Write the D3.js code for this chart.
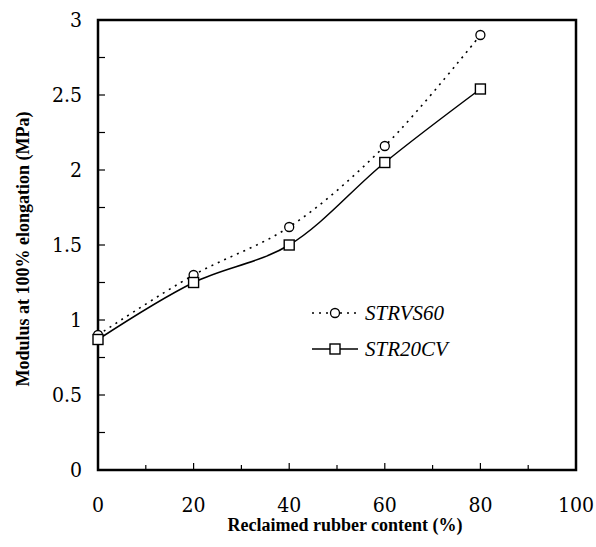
<!DOCTYPE html>
<html><head><meta charset="utf-8">
<script src="https://cdn.jsdelivr.net/npm/d3@7"></script>
<style>
body{margin:0;background:#fff}
svg text{font-family:"Liberation Serif","Times New Roman",Times,serif;}
svg text.tick{font-family:"DejaVu Serif Condensed","DejaVu Serif",serif;font-stretch:condensed;}
</style>
</head><body>
<script>
const content = [0, 20, 40, 60, 80];
const strvs60 = [0.90, 1.30, 1.62, 2.16, 2.90];
const str20cv = [0.87, 1.25, 1.50, 2.05, 2.54];
const xTicks = [0, 20, 40, 60, 80, 100];
const yTicks = [0, 0.5, 1, 1.5, 2, 2.5, 3];
const seriesNames = ["STRVS60", "STR20CV"];

const W = 596, H = 547;
const svg = d3.select("body").append("svg").attr("width", W).attr("height", H);
const x = d3.scaleLinear().domain([0, 100]).range([98, 576]);
const y = d3.scaleLinear().domain([0, 3]).range([470, 20]);

// frame
svg.append("rect").attr("x", x(0)).attr("y", y(3)).attr("width", x(100) - x(0)).attr("height", y(0) - y(3))
  .attr("fill", "none").attr("stroke", "#000").attr("stroke-width", 2.5);

// x axis ticks (inside)
const xMinor = d3.range(0, 101, 10);
svg.append("g").selectAll("line").data(xMinor).join("line")
  .attr("x1", d => x(d)).attr("x2", d => x(d))
  .attr("y1", y(0)).attr("y2", d => y(0) - (d % 20 === 0 ? 7 : 5))
  .attr("stroke", "#000").attr("stroke-width", 1.2);
svg.append("g").selectAll("text").data(xTicks).join("text").attr("class", "tick")
  .attr("x", d => x(d)).attr("y", 512).attr("text-anchor", "middle")
  .attr("font-size", 21).text(d => d);

// y axis ticks (inside)
const yMinor = d3.range(0, 3.01, 0.25);
svg.append("g").selectAll("line").data(yMinor).join("line")
  .attr("x1", x(0)).attr("x2", x(0) + 7)
  .attr("y1", d => y(d)).attr("y2", d => y(d))
  .attr("stroke", "#000").attr("stroke-width", 1.2);
svg.append("g").selectAll("text").data(yTicks).join("text").attr("class", "tick")
  .attr("x", 82).attr("y", d => y(d) + 7).attr("text-anchor", "end")
  .attr("font-size", 21).text(d => d);

// titles
svg.append("text").attr("x", 345).attr("y", 531).attr("text-anchor", "middle")
  .attr("font-size", 18).attr("font-weight", "bold")
  .text("Reclaimed rubber content (%)");
svg.append("text").attr("transform", `translate(29,${(y(0) + y(3)) / 2 + 4}) rotate(-90)`)
  .attr("text-anchor", "middle")
  .attr("font-size", 18).attr("font-weight", "bold")
  .text("Modulus at 100% elongation (MPa)");

const line = d3.line().x(d => x(d[0])).y(d => y(d[1])).curve(d3.curveCatmullRom.alpha(0.5));
const d1 = content.map((c, i) => [c, strvs60[i]]);
const d2 = content.map((c, i) => [c, str20cv[i]]);

svg.append("path").attr("d", line(d1)).attr("fill", "none").attr("stroke", "#000")
  .attr("stroke-width", 1.6).attr("stroke-dasharray", "2,5");
svg.append("path").attr("d", line(d2)).attr("fill", "none").attr("stroke", "#000")
  .attr("stroke-width", 1.5);

svg.append("g").selectAll("circle").data(d1).join("circle")
  .attr("cx", d => x(d[0])).attr("cy", d => y(d[1])).attr("r", 4.5)
  .attr("fill", "#fff").attr("stroke", "#000").attr("stroke-width", 1.3);
svg.append("g").selectAll("rect").data(d2).join("rect")
  .attr("x", d => x(d[0]) - 5).attr("y", d => y(d[1]) - 5).attr("width", 10).attr("height", 10)
  .attr("fill", "#fff").attr("stroke", "#000").attr("stroke-width", 1.4);

// legend
const lg = svg.append("g");
const ly = [313, 349];
lg.append("line").attr("x1", 312).attr("x2", 358).attr("y1", ly[0]).attr("y2", ly[0])
  .attr("stroke", "#000").attr("stroke-width", 1.6).attr("stroke-dasharray", "2,5");
lg.append("circle").attr("cx", 335).attr("cy", ly[0]).attr("r", 4.5)
  .attr("fill", "#fff").attr("stroke", "#000").attr("stroke-width", 1.3);
lg.append("line").attr("x1", 312).attr("x2", 358).attr("y1", ly[1]).attr("y2", ly[1])
  .attr("stroke", "#000").attr("stroke-width", 1.5);
lg.append("rect").attr("x", 330).attr("y", ly[1] - 5).attr("width", 10).attr("height", 10)
  .attr("fill", "#fff").attr("stroke", "#000").attr("stroke-width", 1.4);
lg.selectAll("text").data(seriesNames).join("text")
  .attr("x", 365).attr("y", (d, i) => ly[i] + 7)
  .attr("font-size", 21).attr("font-style", "italic").text(d => d);
</script>
</body></html>
